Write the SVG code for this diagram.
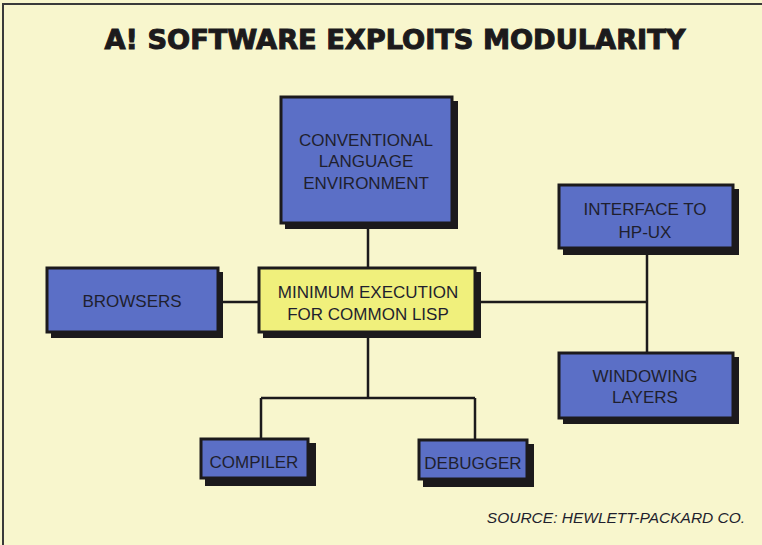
<svg xmlns="http://www.w3.org/2000/svg" width="762" height="545" viewBox="0 0 762 545">
<style>
.bg{fill:#f8f6cd}
.sh{fill:#1c1a1c}
.bx{fill:#5b6fc6;stroke:#1c1a1c;stroke-width:3}
.yb{fill:#f0f07c;stroke:#1c1a1c;stroke-width:3}
.t{font-family:"Liberation Sans",Arial,sans-serif;font-size:17px;fill:#1f1f2e;text-anchor:middle}
.ln{stroke:#1c1a1c;stroke-width:2.5;fill:none}
</style>
<rect class="bg" x="0" y="0" width="762" height="545"/>
<path d="M3,545 V4 H762" stroke="#3a3a3a" stroke-width="2" fill="none"/>
<text x="395" y="49" font-family="'DejaVu Sans','Liberation Sans',sans-serif" font-weight="900" font-size="26" fill="#1c1a1c" stroke="#1c1a1c" stroke-width="1" text-anchor="middle" textLength="581" lengthAdjust="spacingAndGlyphs">A! SOFTWARE EXPLOITS MODULARITY</text>
<g id="connectors">
<path class="ln" d="M368,223 V267"/>
<path class="ln" d="M218,302 H258"/>
<path class="ln" d="M475,302 H647"/>
<path class="ln" d="M647,248 V352"/>
<path class="ln" d="M368,332 V398"/>
<path class="ln" d="M261,398 H475"/>
<path class="ln" d="M261,398 V438"/>
<path class="ln" d="M475,398 V439"/>
</g>
<g id="conventional">
<rect class="sh" x="285" y="101" width="173" height="128"/>
<rect class="bx" x="281" y="97" width="171" height="126"/>
<text class="t" x="366" y="146">CONVENTIONAL</text>
<text class="t" x="366" y="167">LANGUAGE</text>
<text class="t" x="366" y="189">ENVIRONMENT</text>
</g>
<g id="interface">
<rect class="sh" x="563" y="189" width="176" height="66"/>
<rect class="bx" x="559" y="185" width="174" height="63"/>
<text class="t" x="645" y="215">INTERFACE TO</text>
<text class="t" x="645" y="238">HP-UX</text>
</g>
<g id="browsers">
<rect class="sh" x="51" y="272" width="172" height="66"/>
<rect class="bx" x="47" y="268" width="171" height="64"/>
<text class="t" x="132" y="307">BROWSERS</text>
</g>
<g id="minimum">
<rect class="sh" x="263" y="272" width="218" height="66"/>
<rect class="yb" x="259" y="268" width="216" height="64"/>
<text class="t" x="368" y="298">MINIMUM EXECUTION</text>
<text class="t" x="368" y="320">FOR COMMON LISP</text>
</g>
<g id="windowing">
<rect class="sh" x="563" y="357" width="176" height="67"/>
<rect class="bx" x="559" y="353" width="174" height="65"/>
<text class="t" x="645" y="382">WINDOWING</text>
<text class="t" x="645" y="403">LAYERS</text>
</g>
<g id="compiler">
<rect class="sh" x="205" y="443" width="111" height="43"/>
<rect class="bx" x="201" y="439" width="107" height="39"/>
<text class="t" x="254" y="468">COMPILER</text>
</g>
<g id="debugger">
<rect class="sh" x="423" y="444" width="111" height="43"/>
<rect class="bx" x="419" y="440" width="108" height="39"/>
<text class="t" x="473" y="469">DEBUGGER</text>
</g>
<text x="616" y="523" font-family="'Liberation Sans',Arial,sans-serif" font-style="italic" font-size="15.5" fill="#1f1f2e" text-anchor="middle">SOURCE: HEWLETT-PACKARD CO.</text>
</svg>
